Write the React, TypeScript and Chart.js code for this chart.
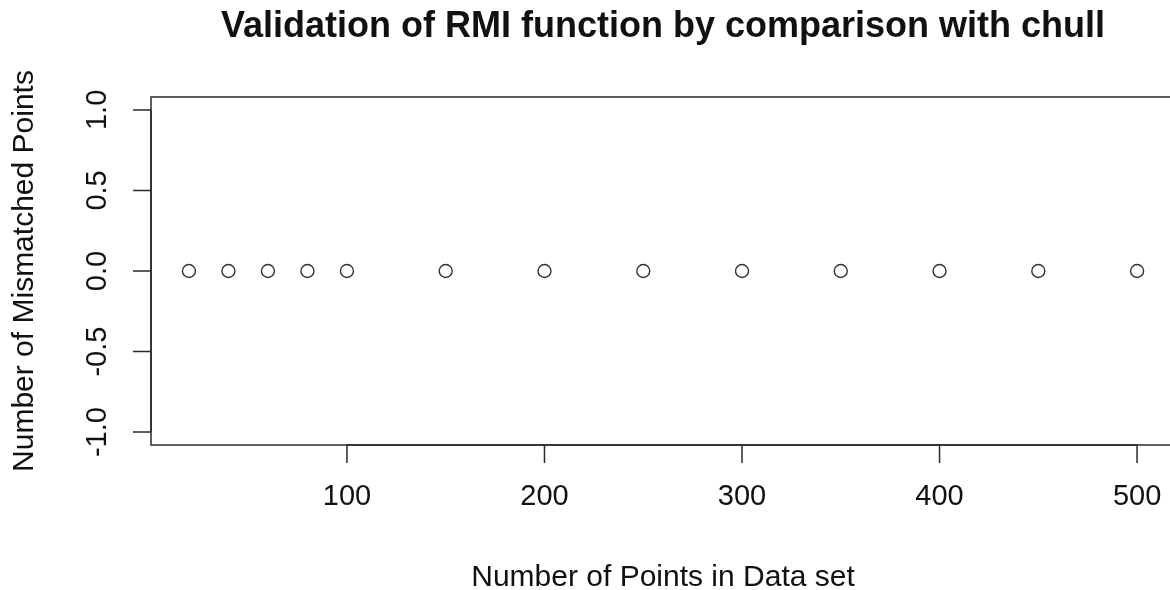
import React, { useEffect, useRef } from "react";
import { Chart, registerables } from "chart.js";

Chart.register(...registerables);

const pointCounts = [20, 40, 60, 80, 100, 150, 200, 250, 300, 350, 400, 450, 500];
const mismatched = [0, 0, 0, 0, 0, 0, 0, 0, 0, 0, 0, 0, 0];
const xTicks = [100, 200, 300, 400, 500];
const yTicks = [-1.0, -0.5, 0.0, 0.5, 1.0];
const yTickLabels = ["-1.0", "-0.5", "0.0", "0.5", "1.0"];
const titleText = "Validation of RMI function by comparison with chull";
const xTitle = "Number of Points in Data set";
const yTitle = "Number of Mismatched Points";

const FONT = "'Liberation Sans', Arial, Helvetica, sans-serif";

const rAxesPlugin = {
  id: "rAxes",
  afterDraw(chart: any) {
    const { ctx, chartArea } = chart;
    const xs = chart.scales.x;
    const ys = chart.scales.y;
    const { left, top, right, bottom } = chartArea;
    ctx.save();
    ctx.strokeStyle = "#2a2a2a";
    ctx.fillStyle = "#111";
    ctx.lineWidth = 1.5;
    // box
    ctx.strokeRect(left, top, right - left, bottom - top);
    // y axis
    const tickLen = 18;
    ctx.beginPath();
    ctx.moveTo(left, ys.getPixelForValue(yTicks[0]));
    ctx.lineTo(left, ys.getPixelForValue(yTicks[yTicks.length - 1]));
    yTicks.forEach((v) => {
      const py = ys.getPixelForValue(v);
      ctx.moveTo(left - tickLen, py);
      ctx.lineTo(left, py);
    });
    // x axis
    ctx.moveTo(xs.getPixelForValue(xTicks[0]), bottom);
    ctx.lineTo(xs.getPixelForValue(xTicks[xTicks.length - 1]), bottom);
    xTicks.forEach((v) => {
      const px = xs.getPixelForValue(v);
      ctx.moveTo(px, bottom);
      ctx.lineTo(px, bottom + tickLen);
    });
    ctx.stroke();

    // tick labels
    ctx.font = `29px ${FONT}`;
    ctx.textAlign = "center";
    ctx.textBaseline = "middle";
    xTicks.forEach((v) => {
      ctx.fillText(String(v), xs.getPixelForValue(v), bottom + 52);
    });
    yTicks.forEach((v, i) => {
      ctx.save();
      ctx.translate(left - 53, ys.getPixelForValue(v));
      ctx.rotate(-Math.PI / 2);
      ctx.fillText(yTickLabels[i], 0, 0);
      ctx.restore();
    });

    // axis titles
    ctx.font = `30px ${FONT}`;
    ctx.fillText(xTitle, (left + right) / 2, bottom + 133);
    ctx.save();
    ctx.translate(25, (top + bottom) / 2);
    ctx.rotate(-Math.PI / 2);
    ctx.fillText(yTitle, 0, 0);
    ctx.restore();

    // main title
    ctx.font = `bold 36px ${FONT}`;
    ctx.textBaseline = "middle";
    ctx.fillText(titleText, (left + right) / 2, 27);
    ctx.restore();
  },
};

export default function App() {
  const canvasRef = useRef<HTMLCanvasElement | null>(null);

  useEffect(() => {
    const canvas = canvasRef.current;
    if (!canvas) return;
    const chart = new Chart(canvas, {
      type: "scatter",
      data: {
        datasets: [
          {
            data: pointCounts.map((x, i) => ({ x, y: mismatched[i] })),
            pointStyle: "circle",
            pointRadius: 6.5,
            pointBorderWidth: 1.4,
            pointBorderColor: "#333",
            pointBackgroundColor: "rgba(0,0,0,0)",
            showLine: false,
          },
        ],
      },
      options: {
        responsive: false,
        animation: false,
        devicePixelRatio: 1,
        layout: { padding: { left: 151, top: 97, right: 125, bottom: 145 } },
        plugins: {
          legend: { display: false },
          tooltip: { enabled: false },
          title: { display: false },
        },
        scales: {
          x: { type: "linear", min: 0.8, max: 519.2, display: false },
          y: { type: "linear", min: -1.08, max: 1.08, display: false },
        },
      },
      plugins: [rAxesPlugin],
    });
    return () => chart.destroy();
  }, []);

  return (
    <div
      style={{
        position: "fixed",
        left: 0,
        top: 0,
        width: 1170,
        height: 590,
        overflow: "hidden",
        background: "#fff",
      }}
    >
      <canvas ref={canvasRef} width={1300} height={590} style={{ display: "block" }} />
    </div>
  );
}
